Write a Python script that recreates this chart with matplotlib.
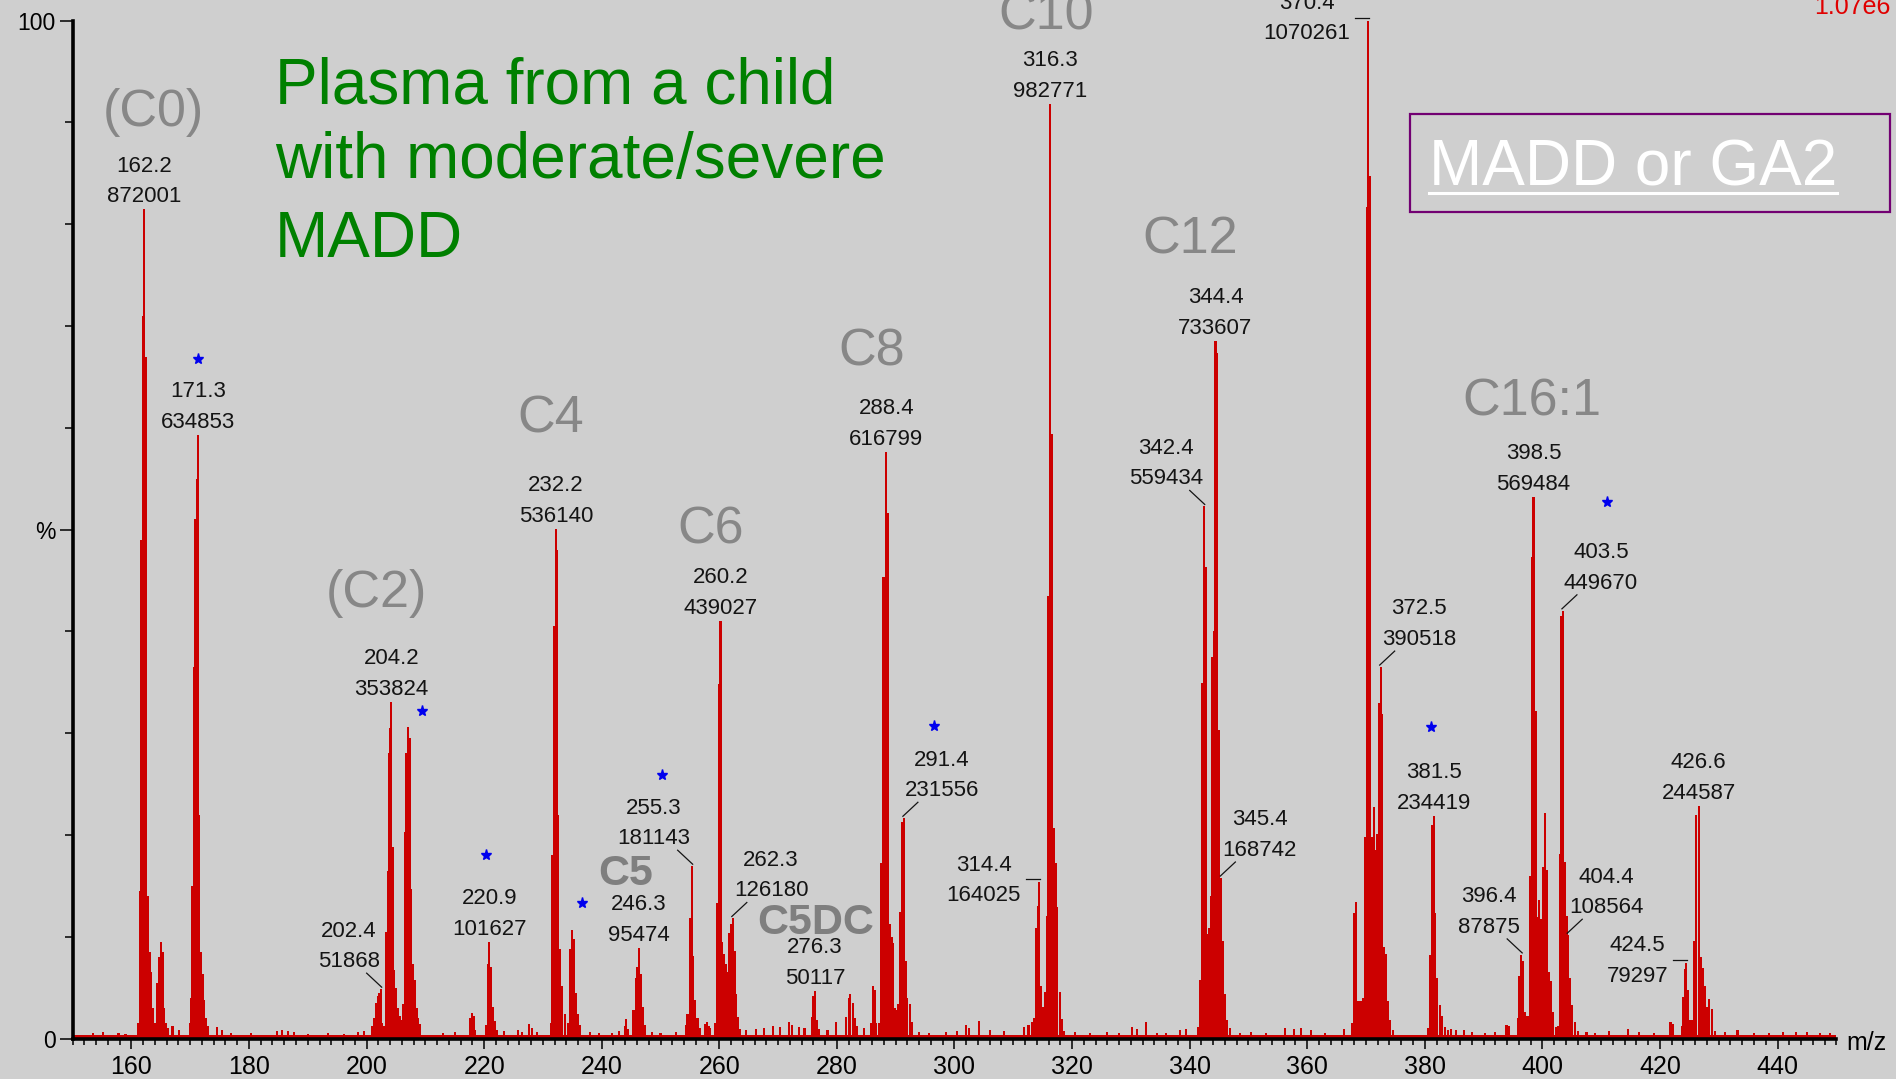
import matplotlib
matplotlib.use("Agg")
import matplotlib.pyplot as plt
from matplotlib.lines import Line2D
from matplotlib.patches import Rectangle

plt.rcParams["font.family"] = ["Liberation Sans", "DejaVu Sans"]

# ---------------------------------------------------------------- data
base_peak_counts = 1070261  # intensity of the 100 % peak

# annotated peaks (m/z, counts)
peak_mz = [162.2, 171.3, 202.4, 204.2, 220.9, 232.2, 246.3, 255.3, 260.2,
           262.3, 276.3, 288.4, 291.4, 314.4, 316.3, 342.4, 344.4, 345.4,
           370.4, 372.5, 381.5, 396.4, 398.5, 403.5, 404.4, 424.5, 426.6]
peak_counts = [872001, 634853, 51868, 353824, 101627, 536140, 95474, 181143,
               439027, 126180, 50117, 616799, 231556, 164025, 982771, 559434,
               733607, 168742, 1070261, 390518, 234419, 87875, 569484, 449670,
               108564, 79297, 244587]

# profile points around the annotated peaks, (m/z, % of base peak)
profile_c0_c2 = [
    (161.1, 1.5), (161.4, 14.5), (161.7, 49.0), (162.0, 71.0), (162.5, 67.0),
    (162.8, 14.0), (163.1, 8.5), (163.4, 6.5), (163.7, 3.0), (164.0, 1.5),
    (164.3, 5.5), (164.7, 8.0), (165.0, 9.5), (165.3, 8.5), (165.6, 3.0),
    (165.9, 1.5), (166.2, 1.0),
    (169.9, 1.5), (170.1, 4.0), (170.35, 15.0), (170.6, 36.5), (170.85, 51.0),
    (171.1, 55.0), (171.55, 22.0), (171.8, 8.5), (172.1, 6.3), (172.4, 3.8),
    (172.7, 2.0), (173.0, 1.2),
    (201.0, 1.2), (201.3, 2.0), (201.6, 3.5), (201.9, 4.2), (202.1, 4.5),
    (202.7, 1.5), (203.0, 1.2), (203.3, 10.5), (203.6, 16.5), (203.8, 28.0),
    (204.0, 30.5), (204.45, 18.8), (204.7, 6.7), (205.0, 5.0), (205.3, 3.0),
    (205.6, 2.2), (205.9, 1.8), (206.2, 3.4), (206.5, 20.3), (206.8, 28.0),
    (207.1, 30.6), (207.35, 29.5), (207.6, 14.7), (207.9, 7.3), (208.2, 5.7),
    (208.5, 3.0), (208.8, 2.0), (209.1, 1.4),
]
profile_c4_c6 = [
    (217.6, 2.0), (217.9, 2.5), (218.2, 2.2), (218.5, 0.8),
    (220.3, 1.3), (220.6, 7.3), (221.2, 7.0), (221.5, 3.1), (221.8, 1.7),
    (222.1, 0.8),
    (231.3, 1.5), (231.6, 18.0), (231.9, 40.5), (232.4, 48.0), (232.6, 22.0),
    (232.9, 8.8), (233.3, 5.2), (233.7, 2.4),
    (234.3, 1.5), (234.6, 8.8), (234.95, 10.7), (235.25, 9.8), (235.55, 4.5),
    (235.9, 2.4), (236.3, 1.3),
    (243.9, 1.2), (244.2, 1.9), (244.5, 0.9), (245.4, 2.8), (245.8, 5.9),
    (246.0, 7.0), (246.6, 6.3), (247.0, 3.1), (247.4, 1.3),
    (254.3, 1.3), (254.6, 2.4), (254.95, 11.8), (255.6, 8.1), (255.9, 3.8),
    (256.3, 2.0), (256.7, 1.0), (257.6, 1.4), (257.9, 1.6), (258.2, 1.2),
    (259.3, 1.5), (259.6, 13.3), (259.9, 34.8), (260.5, 9.5), (260.8, 8.3),
    (261.1, 7.3), (261.4, 6.5), (261.7, 10.4), (262.0, 11.2), (262.6, 8.6),
    (262.9, 4.4), (263.2, 2.1), (263.5, 0.9),
]
profile_c8_c10 = [
    (275.7, 2.1), (276.0, 4.2), (276.6, 1.8), (276.9, 0.9),
    (281.6, 2.1), (282.0, 4.0), (282.3, 4.4), (282.7, 3.5), (283.0, 2.0),
    (283.4, 1.2),
    (285.8, 1.5), (286.1, 5.2), (286.4, 4.8), (286.7, 1.5),
    (287.2, 1.5), (287.5, 17.2), (287.8, 45.3), (288.1, 45.3), (288.7, 51.6),
    (289.0, 11.2), (289.3, 10.0), (289.6, 9.4), (289.9, 3.0), (290.2, 2.8),
    (290.45, 3.4), (290.75, 12.4), (291.05, 21.3), (291.7, 7.6), (292.0, 4.0),
    (292.4, 3.4), (292.8, 1.6),
    (313.2, 1.6), (313.6, 2.0), (313.9, 10.9), (314.15, 13.0), (314.7, 5.2),
    (315.0, 3.1), (315.35, 4.6), (315.7, 12.0), (316.0, 43.5), (316.6, 59.4),
    (316.9, 20.7), (317.2, 17.2), (317.5, 12.9), (317.9, 4.6), (318.3, 1.9),
    (318.7, 0.7),
]
profile_c12_c14 = [
    (341.4, 1.1), (341.75, 5.7), (342.1, 34.9), (342.7, 46.3), (343.0, 10.3),
    (343.3, 10.9), (343.6, 14.0), (343.9, 37.5), (344.15, 40.0), (344.65, 67.3),
    (344.95, 30.3), (345.2, 15.5), (345.75, 9.6), (346.05, 4.4), (346.4, 1.8),
    (346.8, 1.0),
    (367.7, 1.5), (368.0, 12.3), (368.3, 13.4), (368.6, 3.7), (368.9, 3.7),
    (369.2, 3.7), (369.5, 4.0), (369.8, 19.8), (370.1, 81.7), (370.7, 84.7),
    (371.0, 19.8), (371.3, 22.7), (371.6, 18.5), (371.95, 20.1), (372.2, 33.0),
    (372.8, 31.9), (373.1, 9.0), (373.4, 8.3), (373.7, 3.7), (374.1, 1.8),
    (374.6, 0.8),
]
profile_c16 = [
    (380.6, 1.0), (380.95, 8.2), (381.25, 21.0), (381.8, 12.3), (382.15, 5.9),
    (382.6, 3.3), (383.0, 2.2), (383.5, 1.1), (384.0, 0.8),
    (393.9, 1.3), (394.3, 1.2), (395.8, 2.0), (396.1, 6.1), (396.7, 7.6),
    (397.0, 2.6), (397.3, 2.2), (397.6, 2.2), (397.9, 16.0), (398.2, 47.3),
    (398.85, 32.2), (399.1, 11.9), (399.4, 13.6), (399.75, 11.7), (400.1, 16.8),
    (400.4, 22.2), (400.75, 16.6), (401.1, 6.5), (401.45, 5.6), (401.85, 2.6),
    (402.3, 1.1), (402.65, 1.2), (402.95, 18.1), (403.25, 41.5), (403.8, 17.3),
    (404.1, 12.0), (404.75, 5.9), (405.1, 3.3), (405.5, 1.6), (406.0, 0.7),
    (421.8, 1.6), (422.2, 1.4), (423.7, 1.2), (424.0, 4.1), (424.25, 6.8),
    (424.75, 4.8), (425.05, 1.8), (425.45, 1.8), (425.85, 9.6), (426.2, 22.0),
    (426.9, 8.0), (427.3, 6.9), (427.65, 5.2), (428.0, 3.1), (428.4, 3.9),
    (428.85, 2.9), (429.3, 0.7),
]
noise_sticks = [
    (153.5, 0.5), (155.2, 0.6), (157.8, 0.5), (159.0, 0.4), (167.0, 1.2),
    (168.1, 0.8), (174.6, 1.1), (175.4, 0.8), (177.0, 0.5), (180.3, 0.5),
    (184.8, 0.7), (185.6, 0.8), (186.6, 0.7), (187.7, 0.6), (190.0, 0.4),
    (193.5, 0.5), (196.1, 0.4), (198.5, 0.6), (199.6, 0.7), (213.0, 0.5),
    (215.0, 0.6), (223.4, 0.7), (225.7, 0.8), (226.4, 0.6), (227.6, 1.4),
    (228.1, 1.0), (229.0, 0.6), (238.0, 0.6), (239.5, 0.5), (241.8, 0.5),
    (243.0, 0.7), (248.6, 0.6), (250.0, 0.5), (252.6, 0.6), (258.4, 1.0),
    (264.5, 0.8), (266.3, 0.9), (267.6, 1.0), (269.2, 1.2), (270.3, 1.1),
    (271.9, 1.6), (272.4, 1.3), (273.6, 1.1), (274.5, 1.0), (278.4, 0.8),
    (279.9, 1.6), (284.6, 1.0), (294.0, 0.6), (295.7, 0.5), (298.5, 0.6),
    (300.5, 0.7), (302.0, 1.3), (302.5, 1.0), (304.2, 1.7), (306.0, 0.8),
    (308.5, 0.7), (311.9, 1.1), (312.6, 1.3), (320.5, 0.6), (323.0, 0.5),
    (326.0, 0.6), (328.0, 0.5), (330.2, 1.1), (331.0, 0.9), (332.6, 1.6),
    (334.5, 0.5), (336.0, 0.5), (338.3, 0.8), (339.4, 0.9), (348.5, 0.5),
    (350.5, 0.6), (353.0, 0.5), (356.3, 1.0), (357.8, 0.9), (358.9, 1.0),
    (360.6, 0.8), (363.0, 0.5), (366.3, 0.9), (384.5, 0.9), (385.3, 0.8),
    (386.6, 0.8), (388.0, 0.6), (390.3, 0.5), (392.0, 0.6), (407.5, 0.6),
    (409.0, 0.5), (411.3, 0.7), (414.5, 0.9), (416.5, 0.6), (419.0, 0.5),
    (431.0, 0.6), (433.2, 0.8), (436.0, 0.5), (438.5, 0.5), (441.0, 0.6),
    (443.2, 0.6), (445.0, 0.6), (447.3, 0.5), (449.0, 0.5),
]
noise_floor_pct = 0.35

# acylcarnitine names
acyl_names = ["(C0)", "(C2)", "C4", "C6", "C8", "C10", "C12", "C16:1"]
acyl_mz = [163.7, 201.7, 231.4, 258.6, 285.9, 315.6, 340.1, 398.2]
acyl_pct = [89.6, 42.4, 59.5, 48.6, 66.1, 99.1, 77.1, 61.2]
bold_names = ["C5", "C5DC"]
bold_mz = [244.0, 276.4]
bold_pct = [15.1, 10.3]

# internal standard markers
star_mz = [171.4, 209.4, 220.4, 236.7, 250.3, 296.6, 381.0, 411.0]
star_pct = [66.8, 32.2, 18.0, 13.3, 25.9, 30.7, 30.6, 52.7]

title_lines = ["Plasma from a child", "with moderate/severe", "MADD"]
box_text = "MADD or GA2"

# where each peak annotation sits relative to its peak
label_style = ["top", "top", "left", "top", "top", "top", "top", "left", "top",
               "right", "top", "top", "right", "flat", "top", "left", "top",
               "right", "flat", "right", "top", "left", "top", "right",
               "right", "flat", "top"]

# ---------------------------------------------------------------- figure
W, H, DPI = 1896, 1079, 100
BG = "#cfcfcf"
RED = "#cc0000"

fig = plt.figure(figsize=(W / DPI, H / DPI), dpi=DPI, facecolor=BG)
ax = fig.add_axes([72.6 / W, (H - 1038.5) / H, (1836.3 - 72.6) / W, (1038.5 - 20.6) / H])
ax.set_facecolor(BG)
ax.set_xlim(150, 450)
ax.set_ylim(0, 100)

# spectrum
sticks = profile_c0_c2 + profile_c4_c6 + profile_c8_c10 + profile_c12_c14 + profile_c16 + noise_sticks
bar_mz = [m for m, _ in sticks] + peak_mz
bar_pct = [p for _, p in sticks] + [c / base_peak_counts * 100 for c in peak_counts]
ax.fill_between([150, 450], 0, noise_floor_pct, color=RED, lw=0)
ax.bar(bar_mz, bar_pct, width=0.36, color=RED, linewidth=0)

# axes look
for side in ("top", "right"):
    ax.spines[side].set_visible(False)
for side in ("left", "bottom"):
    ax.spines[side].set_linewidth(2.6)
ax.spines["left"].set_bounds(0, 100)

ax.set_xticks(range(160, 441, 20))
ax.set_xticks(range(150, 451, 2), minor=True)
ax.tick_params(axis="x", which="major", length=7, width=1.1, pad=5, labelsize=18)
ax.tick_params(axis="x", which="minor", length=4.5, width=1.1)
ax.set_yticks([0, 50, 100], ["0", "%", "100"])
ax.set_yticks(range(0, 101, 10), minor=True)
ax.tick_params(axis="y", which="major", length=9.4, width=1.1, pad=3, labelsize=16.5)
ax.tick_params(axis="y", which="minor", length=5.8, width=1.1)

# peak annotations
mz_px = 300 / ax.bbox.width
pct_px = 100 / ax.bbox.height
lab = dict(fontsize=16, linespacing=1.6, multialignment="center", color="#141414", clip_on=False)
lead = dict(color="#141414", lw=0.9, clip_on=False)
for mz, counts, style in zip(peak_mz, peak_counts, label_style):
    pct = counts / base_peak_counts * 100
    text = f"{mz:.1f}\n{counts}"
    if style == "top":
        ax.text(mz, pct + 7 * pct_px, text, ha="center", va="baseline", **lab)
    elif style in ("left", "right"):
        s = -1 if style == "left" else 1
        ax.text(mz + s * 1 * mz_px, pct + 22 * pct_px, text,
                ha="right" if s < 0 else "left", va="baseline", **lab)
        ax.plot([mz + s * 14 * mz_px, mz - s * 1 * mz_px],
                [pct + 16 * pct_px, pct + 2 * pct_px], **lead)
    else:
        ax.text(mz - 18 * mz_px, pct + 2 * pct_px, text, ha="right", va="center", **lab)
        ax.plot([mz - 13 * mz_px, mz + 1 * mz_px], [pct + 3 * pct_px] * 2, **lead)

ax.plot(star_mz, star_pct, ls="none", marker="*", ms=8, color="#0000ee", mec="#0000ee", clip_on=False)

for name, x, y in zip(acyl_names, acyl_mz, acyl_pct):
    ax.text(x, y, name, fontsize=37.5, color="#878787", ha="center", va="baseline", clip_on=False)
for name, x, y in zip(bold_names, bold_mz, bold_pct):
    ax.text(x, y, name, fontsize=31, fontweight="bold", color="#7f7f7f", ha="center", va="baseline")

# title block
for line, base in zip(title_lines, [104, 178.3, 256.7]):
    fig.text(275 / W, 1 - base / H, line, fontsize=46, color="#008000", ha="left", va="baseline")

# boxed diagnosis
fig.add_artist(Rectangle((1410 / W, 1 - 211.5 / H), 480 / W, 98 / H, transform=fig.transFigure,
                         fill=False, ec="#720072", lw=1.6))
t = fig.text(1429 / W, 1 - 185 / H, box_text, fontsize=46, color="white", ha="left", va="baseline")
fig.canvas.draw()
bb = t.get_window_extent(fig.canvas.get_renderer())
fig.add_artist(Line2D([bb.x0 / W, bb.x1 / W], [1 - 192.7 / H] * 2, transform=fig.transFigure,
                      color="white", lw=2.2))

fig.text(1891 / W, 1 - 14 / H, f"{base_peak_counts / 1e6:.2f}e6", fontsize=18, color="#e00000",
         ha="right", va="baseline")
fig.text(1846 / W, 1 - 1043 / H, "m/z", fontsize=18, ha="left", va="center")

fig.savefig("out.png", dpi=DPI, facecolor=BG)
